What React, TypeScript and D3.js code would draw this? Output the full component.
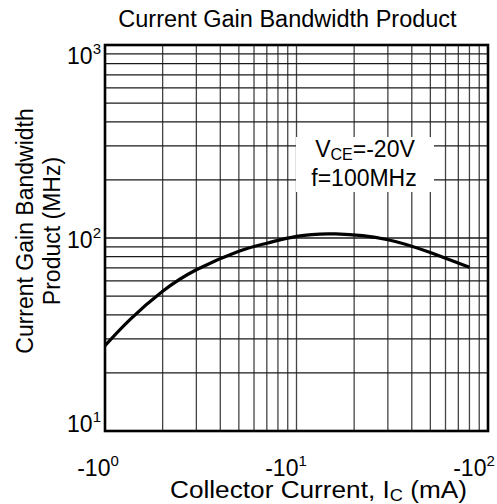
import React from "react";
import * as d3 from "d3";

// Data (collector current magnitude in mA, fT in MHz)
const icValues = [1, 1.35, 2, 3, 5, 7, 10, 16, 30, 50, 80];
const ftValues = [27.7, 37.8, 53, 68.5, 85.5, 94, 102, 105, 98, 84, 70.6];

const xTickExps = [0, 1, 2];
const yTickExps = [1, 2, 3];

const titleText = "Current Gain Bandwidth Product";
const yTitleLines = ["Current Gain Bandwidth", "Product (MHz)"];

const W = 497;
const H = 504;
const M = { left: 105, right: 488, top: 45, bottom: 431 };
const FONT = "'Liberation Sans', Arial, Helvetica, sans-serif";

export default function App() {
  const x = d3.scaleLog().domain([1, 100]).range([M.left, M.right]);
  const y = d3.scaleLog().domain([10, 1000]).range([M.bottom, M.top]);
  // label placement scales (labels in reference are slightly inset from ticks)
  const xLab = d3.scaleLog().domain([1, 100]).range([98, 474]);
  const yLab = d3.scaleLog().domain([10, 1000]).range([432, 64]);

  const gridX: number[] = [];
  for (let d = 1; d < 100; d *= 10) for (let k = 1; k <= 9; k++) gridX.push(d * k);
  gridX.push(100);
  const gridY: number[] = [];
  for (let d = 10; d < 1000; d *= 10) for (let k = 1; k <= 9; k++) gridY.push(d * k);
  gridY.push(1000);

  const line = d3
    .line<number>()
    .x((_, i) => x(icValues[i]))
    .y((d) => y(d))
    .curve(d3.curveNatural);

  return (
    <svg width={W} height={H} style={{ position: "absolute", left: 0, top: 0, background: "#fff" }} fontFamily={FONT}>
      <rect x={0} y={0} width={W} height={H} fill="#fff" />
      {gridX.map((v, i) => (
        <line key={"gx" + i} x1={x(v)} x2={x(v)} y1={M.top} y2={M.bottom} stroke="#444" strokeWidth={1.3} />
      ))}
      {gridY.map((v, i) => (
        <line key={"gy" + i} x1={M.left} x2={M.right} y1={y(v)} y2={y(v)} stroke="#1a1a1a" strokeWidth={1.3} />
      ))}
      <rect x={296} y={137} width={138} height={55} fill="#fff" />
      <text x={365} y={157} fontSize={23} textAnchor="middle" fill="#000">
        V<tspan fontSize={16} dy={3}>CE</tspan>
        <tspan dy={-3}>=-20V</tspan>
      </text>
      <text x={364} y={186} fontSize={23} textAnchor="middle" fill="#000">
        f=100MHz
      </text>
      <path d={line(ftValues) || ""} fill="none" stroke="#000" strokeWidth={3.2} />
      <rect x={M.left} y={M.top} width={M.right - M.left} height={M.bottom - M.top} fill="none" stroke="#000" strokeWidth={2.6} />
      <text x={(117 + 458) / 2} y={27} fontSize={23.5} textAnchor="middle" fill="#000">
        {titleText}
      </text>
      {yTickExps.map((e) => (
        <text key={"yt" + e} x={101} y={yLab(Math.pow(10, e))} fontSize={23} textAnchor="end" fill="#000">
          10<tspan fontSize={15} dy={-10}>{e}</tspan>
        </text>
      ))}
      {xTickExps.map((e) => (
        <text key={"xt" + e} x={xLab(Math.pow(10, e))} y={476} fontSize={23} textAnchor="middle" fill="#000">
          -10<tspan fontSize={15} dy={-10}>{e}</tspan>
        </text>
      ))}
      <text x={318.5} y={498} fontSize={23} textAnchor="middle" fill="#000" textLength={297} lengthAdjust="spacingAndGlyphs">
        Collector Current, I<tspan fontSize={16} dy={3}>C</tspan>
        <tspan dy={-3}> (mA)</tspan>
      </text>
      {yTitleLines.map((t, i) => (
        <text
          key={"ytl" + i}
          transform={`translate(${33 + i * 27},231) rotate(-90)`}
          fontSize={23}
          textAnchor="middle"
          fill="#000"
        >
          {t}
        </text>
      ))}
    </svg>
  );
}
